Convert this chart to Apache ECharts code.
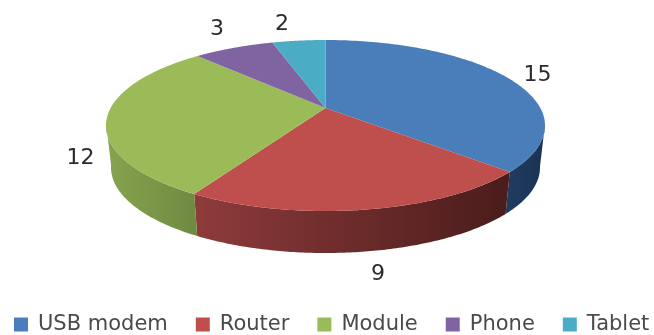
<!DOCTYPE html>
<html><head><meta charset="utf-8">
<style>html,body{margin:0;padding:0;background:#fff}#c{width:654px;height:335px;filter:blur(0.6px)}</style>
<script src="https://cdn.jsdelivr.net/npm/echarts@6/dist/echarts.min.js"></script>
</head><body><div id="c"></div>
<script>
const categories = ['USB modem', 'Router', 'Module', 'Phone', 'Tablet'];
const values = [15, 9, 12, 3, 2];

const colors = ['#4A7EBB', '#BE4F4C', '#9BBB59', '#8064A2', '#4BACC6'];
const sideLeft = ['#1F3D60', '#8E3B3B', '#86A44F', '#5F4A7A', '#38808F'];
const sideRight = ['#1A3353', '#4A1C1B', '#6F8A41', '#5F4A7A', '#38808F'];
const labelPos = [[537.5, 75], [378, 274], [80.5, 158.5], [217, 29], [282, 24]];

const top3d = { cx: 325.5, cy: 125.5, rx: 219.5, ry: 85.5, apexLift: 17.5 };
const bottom3d = { cx: 325.5, cy: 167.5, rx: 214.5, ry: 85.5 };

const total = values.reduce((a, b) => a + b, 0);
const starts = values.map((_, i) => values.slice(0, i).reduce((a, b) => a + b, 0) / total * Math.PI * 2);
const ends = values.map((_, i) => values.slice(0, i + 1).reduce((a, b) => a + b, 0) / total * Math.PI * 2);

function rim(t) {
  const o = top3d.apexLift / top3d.ry, sn = Math.sin(t), cs = Math.cos(t);
  const b = o * cs, s = -b + Math.sqrt(b * b - (o * o - 1));
  return [s * sn, -o - s * cs];
}
const onTop = p => [top3d.cx + top3d.rx * p[0], top3d.cy + top3d.ry * p[1]];
const onBottom = p => [bottom3d.cx + bottom3d.rx * p[0], bottom3d.cy + bottom3d.ry * p[1]];

function renderSlice(i) {
  return function () {
    const steps = 120, arc = [];
    for (let k = 0; k <= steps; k++) arc.push(rim(starts[i] + (ends[i] - starts[i]) * k / steps));
    const children = [];
    const front = arc.filter(p => p[1] >= -0.03);
    if (front.length > 1) {
      children.push({
        type: 'polygon',
        shape: { points: front.map(onTop).concat(front.slice().reverse().map(onBottom)) },
        style: {
          fill: new echarts.graphic.LinearGradient(0, 0, 1, 0, [
            { offset: 0, color: sideLeft[i] }, { offset: 1, color: sideRight[i] }
          ])
        }
      });
    }
    children.push({
      type: 'polygon',
      shape: { points: [[top3d.cx, top3d.cy - top3d.apexLift]].concat(arc.map(onTop)) },
      style: { fill: colors[i] }
    });
    children.push({
      type: 'text',
      x: labelPos[i][0], y: labelPos[i][1],
      style: { text: String(values[i]), fill: '#2b2b2b', font: '22px "DejaVu Sans"', align: 'center', verticalAlign: 'middle' },
      z2: 10
    });
    return { type: 'group', children };
  };
}

const chart = echarts.init(document.getElementById('c'), null, { renderer: 'canvas' });
chart.setOption({
  animation: false,
  color: colors,
  legend: {
    data: categories.map(n => ({ name: n, icon: 'rect' })),
    left: 14, top: 314, width: 720, padding: 0, itemWidth: 14, itemHeight: 14, itemGap: 28,
    textStyle: { fontFamily: 'DejaVu Sans', fontSize: 21, color: '#4a4a4a', padding: [0, 0, 0, 5] }
  },
  series: categories.map((n, i) => ({
    type: 'custom', name: n, coordinateSystem: 'none',
    itemStyle: { color: colors[i] },
    data: [values[i]],
    silent: true,
    renderItem: renderSlice(i)
  }))
});
</script></body></html>
